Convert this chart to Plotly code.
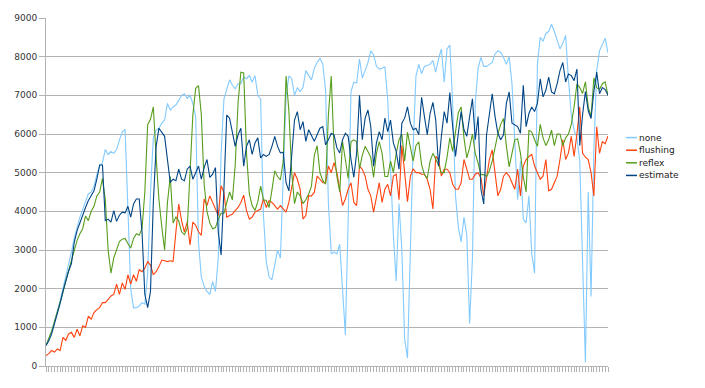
import plotly.graph_objects as go

series_names = ["none", "flushing", "reflex", "estimate"]
series_colors = ["#83caff", "#ff420e", "#579d1c", "#004586"]

none = [
    530, 700, 900, 1150, 1400, 1700, 2000, 2300, 2650, 2950,
    3300, 3600, 3850, 4050, 4250, 4450, 4500, 4650, 4950, 5170,
    5260, 5600, 5470, 5550, 5500, 5600, 5850, 6050, 6120, 4200,
    2000, 1500, 1510, 1550, 1640, 1600, 2400, 4500, 5900, 6100,
    6150, 6280, 6360, 6790, 6620, 6700, 6750, 6870, 7000, 7040,
    6920, 7000, 6790, 6450, 3200, 2300, 2060, 1930, 1850, 2180,
    1930, 2800, 5500, 6900, 7170, 7400, 7260, 7170, 7300, 7300,
    7480, 7430, 7510, 7340, 7510, 7000, 6900, 3890, 2700, 2300,
    2230, 2600, 3000, 2790, 4700, 6960, 7500, 7430, 7000, 7200,
    7100, 7200, 7640, 7500, 7400, 7700, 7850, 7950, 7810, 7130,
    4200, 2900, 2950, 2900, 3150, 2000, 800, 3800, 7100, 7340,
    7320, 7940, 7450, 7640, 7850, 8150, 8050, 7750, 7680, 7700,
    7730, 6900, 5000, 3380, 2200, 4200, 3000, 700, 200, 3300,
    5680, 7500, 7800, 7560, 7750, 7770, 7800, 7900, 7600, 7940,
    8200, 7340, 8200, 8300, 6800, 4400, 3600, 3210, 3850, 3380,
    1100, 2800, 6800, 7700, 7980, 7750, 7750, 7800, 7850, 8070,
    8150, 8110, 7980, 7800, 8000, 7300, 5600, 4300, 5300, 3800,
    3700, 4400, 2900, 2400, 7800, 8500, 8400, 8600, 8650, 8840,
    8650, 8450, 8200, 8350, 8550, 7400, 6500, 6100, 5900, 5300,
    2600, 100, 4500, 1800, 5600, 7640, 8150, 8300, 8480, 8100,
]

flushing = [
    270, 320, 400, 360, 440, 400, 740, 660, 830, 870,
    740, 950, 780, 1040, 1000, 1290, 1210, 1380, 1460, 1510,
    1640, 1640, 1720, 1810, 1850, 2120, 1850, 2150, 1980, 2360,
    2120, 2360, 2190, 2490, 2440, 2530, 2700, 2610, 2360, 2440,
    2570, 2740, 2720, 2700, 2720, 2700, 3470, 4190, 3760, 3470,
    3720, 3130, 3720, 3640, 3470, 3380, 4320, 4150, 4400, 4230,
    4060, 3890, 4660, 4490, 3850, 3890, 3930, 4020, 4100, 4230,
    4420, 4020, 3800, 3850, 3980, 4020, 4060, 4320, 4100, 4280,
    4230, 4150, 4060, 4150, 4060, 3980, 4230, 4570, 5000, 4830,
    4570, 3800, 3890, 4400, 4400, 4490, 4910, 4830, 4740, 4740,
    5170, 5000, 5260, 5000, 4570, 4150, 4320, 4570, 4740, 4230,
    4150, 5170, 5090, 4910, 4570, 4400, 3980, 4400, 4740, 4230,
    4570, 4700, 4400, 4910, 4960, 4300, 5700, 5000, 4250, 4900,
    5100, 5000, 5000, 4960, 4960, 4830, 4570, 4060, 5420, 5340,
    4910, 5090, 5090, 5000, 4700, 4570, 4570, 4740, 5340, 5090,
    4830, 4830, 4960, 5000, 4870, 4400, 4910, 5340, 5590, 5000,
    4400, 4570, 4910, 5000, 4910, 4740, 4570, 5090, 4400, 5170,
    5340, 5420, 5470, 5170, 5000, 4830, 4910, 5340, 4530, 4570,
    4740, 4910, 5340, 5850, 5340, 5510, 5940, 5420, 6000, 6700,
    5500, 5400, 5340, 5000, 4400, 6190, 5500, 5800, 5750, 5950,
]

reflex = [
    530, 700, 900, 1150, 1400, 1590, 1900, 2200, 2450, 2750,
    3000, 3250, 3420, 3550, 3880, 3760, 4000, 4130, 4400, 4500,
    4850, 4300, 3000, 2400, 2800, 3000, 3220, 3280, 3300, 3170,
    3050, 3300, 3420, 3380, 3550, 4500, 6240, 6380, 6700, 5400,
    4300, 3600, 3000, 4230, 4900, 3700, 3850, 3750, 3470, 3400,
    3550, 5000, 6500, 7180, 7250, 6500, 4700, 4000, 3700, 3550,
    3580, 3800, 3950, 3950, 4200, 4500, 4300, 5200, 6800, 7600,
    7580, 5500, 4450, 4150, 4020, 4250, 4650, 4300, 4280, 4100,
    4550, 5050, 4900, 4810, 5300, 7500, 6600, 5000, 4200, 4500,
    4400, 4200, 4300, 4450, 4650, 5450, 5700, 5000, 4800, 4700,
    6500, 7500, 5600, 4900, 4500, 5800, 5340, 4850, 5800, 5850,
    5800, 5100, 5450, 5680, 5550, 5400, 4880, 5500, 5800, 5500,
    4900, 4900, 5300, 5000, 5500, 5850, 6000, 5300, 6050, 5700,
    5300, 5700, 5800, 5200, 4950, 4850, 5300, 5500, 5350, 5200,
    5000, 5000, 5400, 5900, 5550, 6000, 6550, 6700, 5900, 5380,
    5650, 6000, 5500, 5250, 4950, 4950, 4900, 5050, 5300, 5650,
    6000, 6250, 6400, 5700, 5150, 5500, 5850, 5880, 5500, 4900,
    4500, 6100, 6050, 5850, 5680, 6250, 5900, 5700, 5850, 6100,
    5700, 6000, 6000, 5700, 5900, 6000, 6250, 6700, 7300, 7200,
    7050, 7350, 6700, 6450, 7450, 7200, 7150, 7300, 7350, 7000,
]

estimate = [
    530, 650, 830, 1080, 1340, 1620, 1930, 2200, 2450, 2650,
    3200, 3500, 3700, 3950, 4100, 4280, 4400, 4530, 4830, 5200,
    5200, 3760, 3800, 3720, 4020, 3740, 3900, 3980, 3960, 4130,
    3850, 4190, 4320, 4320, 3470, 1850, 1510, 1930, 4230, 5680,
    6150, 6050, 5940, 5340, 4750, 4830, 4790, 5090, 4830, 4790,
    5090, 5170, 4830, 5000, 5170, 4830, 5130, 5340, 4880, 4960,
    5130, 3470, 2870, 4570, 6490, 6410, 6020, 5680, 5980, 6150,
    5170, 5680, 5850, 5470, 5770, 5900, 5380, 5470, 5420, 5470,
    5680, 5940, 5680, 5510, 5530, 4740, 4530, 5420, 6360, 6580,
    6110, 6320, 5810, 6110, 5940, 5810, 5980, 6150, 6190, 5720,
    5850, 6020, 5980, 5640, 5510, 5850, 6020, 5940, 5340, 4880,
    5510, 7000, 5850, 6410, 6620, 6190, 5170, 5770, 6060, 5850,
    6410, 6060, 6360, 5770, 5550, 5090, 6280, 6410, 6700, 6280,
    6110, 6150, 5980, 6950, 6450, 5980, 6530, 6820, 6360, 5170,
    5940, 6580, 6280, 7070, 6190, 5420, 6020, 6580, 6110, 5940,
    6450, 6910, 5850, 6450, 4570, 4190, 5980, 6450, 7040, 6450,
    6020, 5850, 5980, 6790, 7090, 6280, 6240, 6190, 6020, 7260,
    6190, 6530, 6700, 6580, 6790, 7430, 6960, 7130, 7470, 7090,
    7040, 7300, 7640, 7850, 7350, 7550, 7510, 7380, 7680, 5700,
    6500, 7100, 6600, 6400, 7100, 7600, 7040, 7200, 7150, 7000,
]

y_ticks = [0, 1000, 2000, 3000, 4000, 5000, 6000, 7000, 8000, 9000]

all_series = [none, flushing, reflex, estimate]
x = list(range(len(none)))

fig = go.Figure()
for name, color, vals in zip(series_names, series_colors, all_series):
    fig.add_trace(go.Scatter(
        x=x, y=vals, name=name, mode="lines",
        line=dict(color=color, width=1.1),
        showlegend=False,
    ))

# The page body has an 8px margin; size the figure so the plot lands where it should.
OFF = 8
W, H = 689, 372
ml, mt = 38, 5
pw, ph = 562, 353
mr = W - ml - pw
mb = H - mt - ph

# Compact manual legend, like the original
for k, (name, color) in enumerate(zip(series_names, series_colors)):
    yc = 134.3 + k * 12.8 - OFF
    yp = (mt + ph - yc) / ph
    fig.add_shape(type="line", xref="paper", yref="paper",
                  x0=(626 - OFF - ml) / pw, x1=(637 - OFF - ml) / pw, y0=yp, y1=yp,
                  line=dict(color=color, width=1.5))
    fig.add_annotation(xref="paper", yref="paper", x=(638 - OFF - ml) / pw, y=yp,
                       text=name, showarrow=False, xanchor="left", yanchor="middle",
                       font=dict(family="DejaVu Sans", size=9, color="#222"),
                       borderpad=0)

fig.update_layout(
    width=W, height=H,
    margin=dict(l=ml, r=mr, t=mt, b=mb),
    paper_bgcolor="white", plot_bgcolor="white",
    font=dict(family="DejaVu Sans", size=9, color="#333"),
)
fig.update_xaxes(
    range=[0, len(none) - 1], tick0=0, dtick=1,
    showticklabels=False, ticks="outside", ticklen=5, tickcolor="#b3b3b3", tickwidth=1,
    showgrid=False, zeroline=False,
    showline=True, linecolor="#b3b3b3", linewidth=1,
)
fig.update_yaxes(
    range=[0, 9000], tickvals=y_ticks, ticktext=[str(v) for v in y_ticks],
    ticks="outside", ticklen=6, tickcolor="#b3b3b3", tickwidth=1,
    showgrid=True, gridcolor="#b3b3b3", gridwidth=1, zeroline=False,
    showline=True, linecolor="#b3b3b3", linewidth=1,
    tickfont=dict(family="DejaVu Sans", size=9, color="#333"),
)

fig.write_html("out.html")
